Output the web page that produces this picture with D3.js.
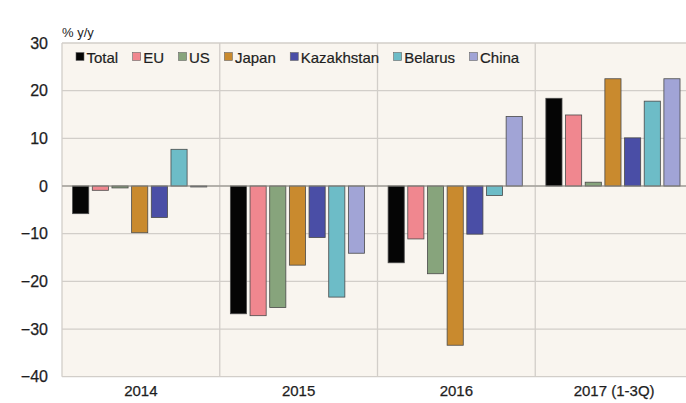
<!doctype html>
<html>
<head>
  <meta charset="utf-8">
  <title>trade growth by partner</title>
  <style>
    body { margin: 0; background: #fff; }
    #chart { width: 686px; height: 403px; overflow: hidden; }
    text { font-family: "Liberation Sans", Arial, sans-serif; fill: #1e1e1e; }
  </style>
</head>
<body>
  <div id="chart"></div>
  <script src="https://cdn.jsdelivr.net/npm/d3@7"></script>
  <script>
    // values, % y/y
    const years = ['2014', '2015', '2016', '2017 (1-3Q)'];
    const partners = ['Total', 'EU', 'US', 'Japan', 'Kazakhstan', 'Belarus', 'China'];
    const total = [-5.8, -26.8, -16.1, 18.4];
    const eu = [-0.9, -27.2, -11.1, 14.9];
    const us = [-0.4, -25.5, -18.4, 0.8];
    const japan = [-9.8, -16.6, -33.4, 22.5];
    const kazakhstan = [-6.6, -10.8, -10.1, 10.1];
    const belarus = [7.7, -23.3, -2.0, 17.8];
    const china = [-0.2, -14.1, 14.6, 22.5];
    const yTicks = [30, 20, 10, 0, -10, -20, -30, -40];
    const colors = ['#050505', '#f0878f', '#87a47c', '#c98a2e', '#4a4ea6', '#6dbcc7', '#a1a4d6'];

    const seriesValues = [total, eu, us, japan, kazakhstan, belarus, china];

    const svg = d3.select('#chart').append('svg')
      .attr('width', 686)
      .attr('height', 403);

    const plotLeft = 62, plotRight = 693, plotTop = 43, plotBottom = 376.7;

    const x = d3.scaleBand().domain(years).range([plotLeft, plotRight]);
    const xInner = d3.scaleBand().domain(partners)
      .range([0, x.bandwidth()])
      .paddingInner(0.18)
      .paddingOuter(0.6)
      .align(0.45);
    const y = d3.scaleLinear().domain([-40, 30]).range([plotBottom, plotTop]);

    // plot background
    svg.append('rect')
      .attr('x', plotLeft).attr('y', plotTop)
      .attr('width', plotRight - plotLeft).attr('height', plotBottom - plotTop)
      .attr('fill', '#f9f5ef');

    // grid
    svg.append('g').selectAll('line').data(yTicks).join('line')
      .attr('x1', plotLeft).attr('x2', plotRight)
      .attr('y1', d => y(d)).attr('y2', d => y(d))
      .attr('stroke', '#d2cec9').attr('stroke-width', 1.3);

    svg.append('g').selectAll('line').data(years).join('line')
      .attr('x1', d => x(d)).attr('x2', d => x(d))
      .attr('y1', plotTop).attr('y2', plotBottom)
      .attr('stroke', '#d2cec9').attr('stroke-width', 1.3);

    // bars
    const groups = svg.append('g').selectAll('g').data(partners).join('g')
      .attr('fill', (d, i) => colors[i]);

    groups.selectAll('rect')
      .data((p, i) => years.map((yr, j) => ({ yr, p, v: seriesValues[i][j] })))
      .join('rect')
      .attr('x', d => x(d.yr) + xInner(d.p))
      .attr('width', xInner.bandwidth())
      .attr('y', d => y(Math.max(0, d.v)))
      .attr('height', d => Math.max(0.8, Math.abs(y(d.v) - y(0))))
      .attr('stroke', '#4a4a4a')
      .attr('stroke-width', 0.8);

    // zero line
    svg.append('line')
      .attr('x1', plotLeft).attr('x2', plotRight)
      .attr('y1', y(0)).attr('y2', y(0))
      .attr('stroke', '#8a8782').attr('stroke-width', 1.2);

    // y axis labels
    const yAxis = svg.append('g')
      .attr('transform', `translate(${plotLeft - 14},0)`)
      .call(d3.axisLeft(y).tickValues(yTicks).tickSize(0).tickPadding(0));
    yAxis.select('.domain').remove();
    yAxis.selectAll('text')
      .style('font-size', '16px')
      .attr('fill', '#1e1e1e')
      .attr('stroke', '#1e1e1e').attr('stroke-width', 0.25);

    // x axis labels
    const xAxis = svg.append('g')
      .attr('transform', `translate(0,${plotBottom + 9})`)
      .call(d3.axisBottom(x).tickSize(0).tickPadding(0));
    xAxis.select('.domain').remove();
    xAxis.selectAll('text')
      .style('font-size', '15px')
      .attr('fill', '#1e1e1e')
      .attr('stroke', '#1e1e1e').attr('stroke-width', 0.25);

    svg.append('text')
      .attr('x', plotLeft).attr('y', 37)
      .style('font-size', '13px')
      .text('% y/y');

    // legend
    const legend = svg.append('g').attr('transform', 'translate(76,57)');
    let lx = 0;
    partners.forEach((p, i) => {
      const item = legend.append('g').attr('transform', `translate(${lx},0)`);
      item.append('rect')
        .attr('x', 0).attr('y', -4.5)
        .attr('width', 8).attr('height', 8)
        .attr('fill', colors[i])
        .attr('stroke', '#666').attr('stroke-width', 0.6);
      const t = item.append('text')
        .attr('x', 10.5).attr('y', 5.5)
        .style('font-size', '15px')
        .attr('stroke', '#1e1e1e').attr('stroke-width', 0.2)
        .text(p);
      lx += 10.5 + t.node().getComputedTextLength() + 14.5;
    });
  </script>
</body>
</html>
